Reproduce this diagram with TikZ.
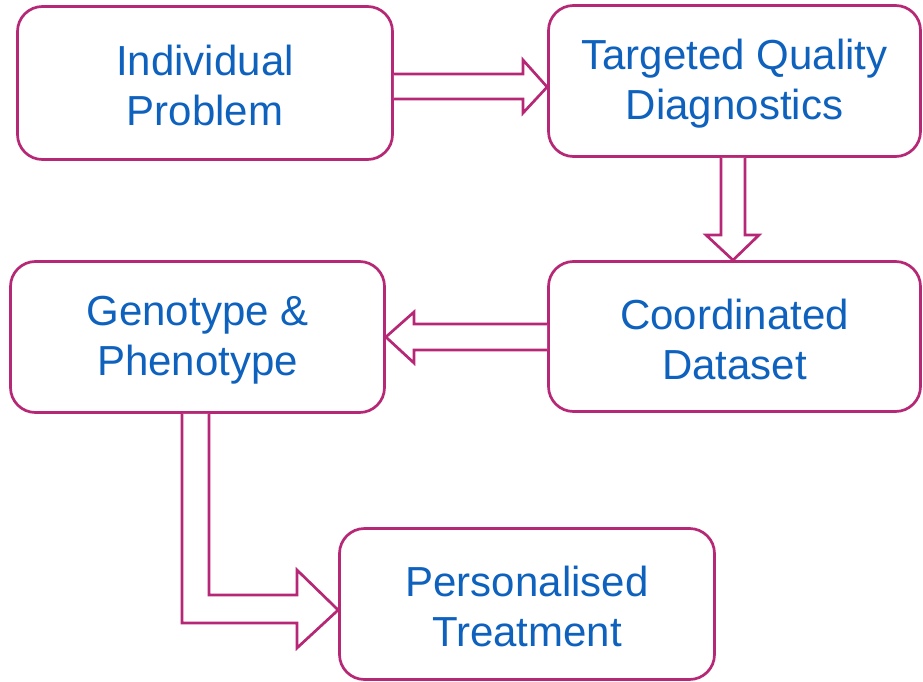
\documentclass[tikz,border=0pt]{standalone}
\usepackage{fontspec}
\setmainfont{Liberation Sans}
\definecolor{edgec}{RGB}{182,40,118}
\definecolor{txtc}{RGB}{14,98,190}
\newcommand{\topstrut}{\rule{0pt}{36pt}}
\begin{document}
\begin{tikzpicture}[x=1pt,y=-1pt,
  box/.style={draw=edgec,line width=2.7pt,rounded corners=25pt,fill=white,
    inner sep=0pt,align=center,text=txtc,font=\fontsize{42}{50}\selectfont},
  blockarrow/.style={draw=edgec,line width=2.7pt,fill=white,line join=miter}]
\useasboundingbox (0,0) rectangle (923,682);
\node[box,minimum width=375pt,minimum height=153pt] (a) at (205,83) {\topstrut Individual\\Problem};
\node[box,minimum width=372pt,minimum height=151pt] (b) at (734.5,81) {\topstrut Targeted Quality\\Diagnostics};
\node[box,minimum width=372pt,minimum height=150pt] (c) at (734.5,336.5) {\topstrut Coordinated\\Dataset};
\node[box,minimum width=374pt,minimum height=151pt] (d) at (197.5,337) {\topstrut Genotype \&\\Phenotype};
\node[box,minimum width=375pt,minimum height=151pt] (e) at (527,604) {\topstrut Personalised\\Treatment};
% a -> b
\draw[blockarrow] (a.east |- 0,74) -- (523,74) -- (523,60) -- (b.west |- 0,87) -- (523,113) -- (523,99) -- (a.east |- 0,99);
% b -> c
\draw[blockarrow] (721,0 |- b.south) -- (721,235) -- (706,235) -- (733,0 |- c.north) -- (759,235) -- (745,235) -- (745,0 |- b.south);
% c -> d
\draw[blockarrow] (c.west |- 0,324) -- (414,324) -- (414,312) -- (d.east |- 0,337) -- (414,363) -- (414,350) -- (c.west |- 0,350);
% d -> e
\draw[blockarrow] (182,0 |- d.south) -- (182,623) -- (297,623) -- (297,648) -- (e.west |- 0,610) -- (297,570) -- (297,595) -- (209,595) -- (209,0 |- d.south);
\end{tikzpicture}
\end{document}
